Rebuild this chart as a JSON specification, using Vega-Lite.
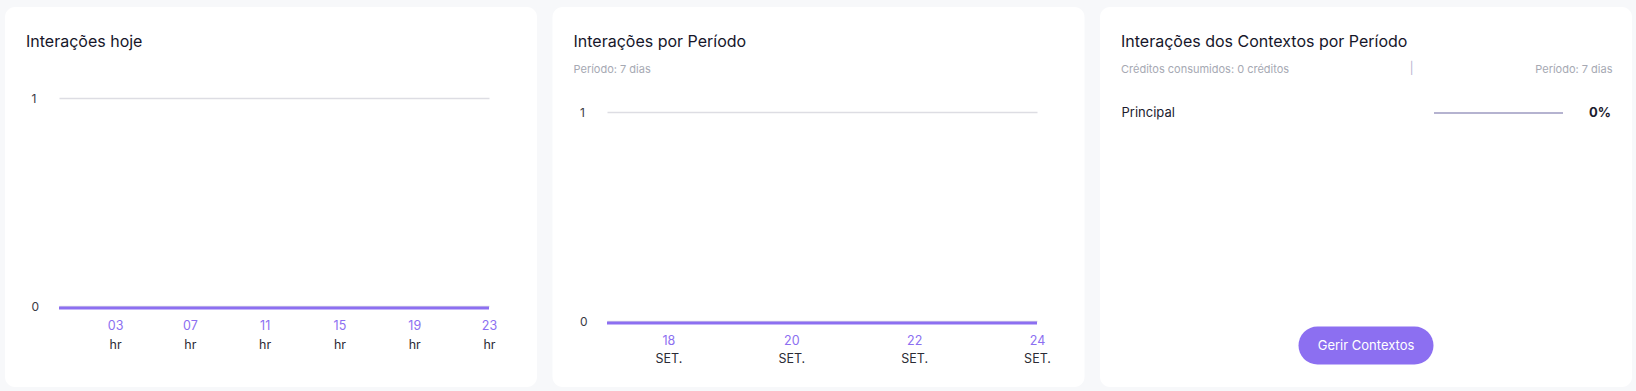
{
  "$schema": "https://vega.github.io/schema/vega-lite/v6.json",
  "background": "#f7f8fa",
  "padding": {"left": 5, "top": 7, "right": 4, "bottom": 4},
  "spacing": 15.5,
  "config": {
    "font": "Inter",
    "view": {"stroke": null},
    "title": {"anchor": "start", "frame": "group", "dx": 21, "fontSize": 16, "fontWeight": 400, "color": "#16162a", "subtitleFontSize": 11, "subtitleColor": "#a6a9b3", "subtitlePadding": 14, "subtitleFont": "Inter"},
    "axis": {"domain": false, "ticks": false, "tickSize": 0, "grid": false, "labelFont": "Inter"}
  },
  "hconcat": [
    {
      "width": 532,
      "height": 380,
      "view": {"fill": "#ffffff", "cornerRadius": 10, "stroke": null},
      "title": {"text": "Interações hoje", "offset": -43},
      "data": {"values": [
        {"hora": 0, "interacoes": 0}, {"hora": 1, "interacoes": 0}, {"hora": 2, "interacoes": 0}, {"hora": 3, "interacoes": 0},
        {"hora": 4, "interacoes": 0}, {"hora": 5, "interacoes": 0}, {"hora": 6, "interacoes": 0}, {"hora": 7, "interacoes": 0},
        {"hora": 8, "interacoes": 0}, {"hora": 9, "interacoes": 0}, {"hora": 10, "interacoes": 0}, {"hora": 11, "interacoes": 0},
        {"hora": 12, "interacoes": 0}, {"hora": 13, "interacoes": 0}, {"hora": 14, "interacoes": 0}, {"hora": 15, "interacoes": 0},
        {"hora": 16, "interacoes": 0}, {"hora": 17, "interacoes": 0}, {"hora": 18, "interacoes": 0}, {"hora": 19, "interacoes": 0},
        {"hora": 20, "interacoes": 0}, {"hora": 21, "interacoes": 0}, {"hora": 22, "interacoes": 0}, {"hora": 23, "interacoes": 0}
      ]},
      "layer": [
        {
          "mark": {"type": "line", "color": "#8c6ff1", "strokeWidth": 3, "yOffset": 2},
          "encoding": {
            "x": {"field": "hora", "type": "quantitative",
              "scale": {"domain": [0, 23], "range": [54, 484], "nice": false, "zero": false},
              "axis": {"orient": "bottom", "offset": -79, "values": [3, 7, 11, 15, 19, 23], "format": "02d", "labelColor": "#8c6ff1", "labelFontSize": 12.5, "labelPadding": 17.5, "labelBaseline": "middle", "labelFlush": false, "title": null}},
            "y": {"field": "interacoes", "type": "quantitative",
              "scale": {"domain": [0, 1], "range": [299, 91], "nice": false, "zero": false},
              "axis": {"values": [0, 1], "format": "d", "grid": true, "gridColor": "#dddde3", "gridWidth": 1.5, "offset": -26, "labelAlign": "left", "labelPadding": 0, "labelColor": "#3a3a44", "labelFontSize": 12, "title": null}}
          }
        },
        {
          "mark": {"type": "point", "opacity": 0},
          "encoding": {
            "x": {"field": "hora", "type": "quantitative",
              "axis": {"orient": "bottom", "offset": -79, "values": [3, 7, 11, 15, 19, 23], "labelExpr": "'hr'", "labelColor": "#2b2b35", "labelFontSize": 12.5, "labelPadding": 36.5, "labelBaseline": "middle", "labelFlush": false, "title": null}}
          }
        }
      ],
      "resolve": {"axis": {"x": "independent"}}
    },
    {
      "width": 532,
      "height": 380,
      "view": {"fill": "#ffffff", "cornerRadius": 10, "stroke": null},
      "title": {"text": "Interações por Período", "subtitle": "Período: 7 dias", "offset": -68},
      "data": {"values": [
        {"dia": 17, "interacoes": 0}, {"dia": 18, "interacoes": 0}, {"dia": 19, "interacoes": 0}, {"dia": 20, "interacoes": 0},
        {"dia": 21, "interacoes": 0}, {"dia": 22, "interacoes": 0}, {"dia": 23, "interacoes": 0}, {"dia": 24, "interacoes": 0}
      ]},
      "layer": [
        {
          "mark": {"type": "line", "color": "#8c6ff1", "strokeWidth": 3, "yOffset": 2},
          "encoding": {
            "x": {"field": "dia", "type": "quantitative",
              "scale": {"domain": [17, 24], "range": [54.5, 484.5], "nice": false, "zero": false},
              "axis": {"orient": "bottom", "offset": -64, "values": [18, 20, 22, 24], "format": "d", "labelColor": "#8c6ff1", "labelFontSize": 12.5, "labelPadding": 17.5, "labelBaseline": "middle", "labelFlush": false, "title": null}},
            "y": {"field": "interacoes", "type": "quantitative",
              "scale": {"domain": [0, 1], "range": [314, 105], "nice": false, "zero": false},
              "axis": {"values": [0, 1], "format": "d", "grid": true, "gridColor": "#dddde3", "gridWidth": 1.5, "offset": -27, "labelAlign": "left", "labelPadding": 0, "labelColor": "#3a3a44", "labelFontSize": 12, "title": null}}
          }
        },
        {
          "mark": {"type": "point", "opacity": 0},
          "encoding": {
            "x": {"field": "dia", "type": "quantitative",
              "axis": {"orient": "bottom", "offset": -64, "values": [18, 20, 22, 24], "labelExpr": "'SET.'", "labelColor": "#2b2b35", "labelFontSize": 12.5, "labelPadding": 35, "labelBaseline": "middle", "labelFlush": false, "title": null}}
          }
        }
      ],
      "resolve": {"axis": {"x": "independent"}}
    },
    {
      "width": 532,
      "height": 380,
      "view": {"fill": "#ffffff", "cornerRadius": 10, "stroke": null},
      "title": {"text": "Interações dos Contextos por Período", "subtitle": "Créditos consumidos: 0 créditos", "offset": -68},
      "layer": [
        {
          "data": {"values": [{"contexto": "Principal", "percentual": 0}]},
          "layer": [
            {
              "mark": {"type": "rule", "color": "#b5b3d0", "strokeWidth": 2},
              "encoding": {
                "x": {"datum": 0, "type": "quantitative",
                  "scale": {"domain": [0, 1], "range": [334, 463], "nice": false, "zero": false},
                  "axis": {"orient": "top", "offset": 0, "labels": false, "title": "Período: 7 dias", "titleX": 512, "titleY": 62, "titleAlign": "right", "titleBaseline": "middle", "titleAngle": 0, "titleFont": "Inter", "titleFontSize": 11, "titleFontWeight": "normal", "titleColor": "#a6a9b3"}},
                "x2": {"datum": 1},
                "y": {"field": "contexto", "type": "nominal",
                  "scale": {"range": [86, 126]},
                  "axis": {"orient": "left", "offset": -21, "labelAlign": "left", "labelPadding": 0, "labelFontSize": 13, "labelColor": "#1c1c2e", "labelBaseline": "middle", "title": "│", "titleFont": "DejaVu Sans", "titleFontSize": 12, "titleFontWeight": "normal", "titleColor": "#b9b6d2", "titleAngle": 0, "titleX": 290, "titleY": 60, "titleAlign": "center", "titleBaseline": "middle"}}
              }
            },
            {
              "mark": {"type": "bar", "color": "#8c6ff1", "height": 2},
              "encoding": {
                "x": {"field": "percentual", "type": "quantitative"},
                "y": {"field": "contexto", "type": "nominal"}
              }
            },
            {
              "mark": {"type": "text", "align": "right", "baseline": "middle", "dx": 48, "fontSize": 13, "fontWeight": 700, "color": "#1c1c2e"},
              "encoding": {
                "x": {"datum": 1, "type": "quantitative"},
                "y": {"field": "contexto", "type": "nominal"},
                "text": {"field": "percentual", "type": "quantitative", "format": ".0%"}
              }
            }
          ]
        },
        {
          "data": {"values": [{"acao": "Gerir Contextos"}]},
          "encoding": {
            "x": {"field": "acao", "type": "nominal", "scale": {"range": [0, 532]}, "axis": null},
            "y": {"field": "acao", "type": "nominal", "scale": {"range": [319, 358]}, "axis": null}
          },
          "layer": [
            {"mark": {"type": "point", "shape": "stroke", "size": 9409, "filled": false, "strokeWidth": 38, "strokeCap": "round", "color": "#8c6ff1", "opacity": 1}},
            {"mark": {"type": "text", "color": "#ffffff", "fontSize": 13, "align": "center", "baseline": "middle"}, "encoding": {"text": {"field": "acao"}}}
          ]
        }
      ],
      "resolve": {"scale": {"x": "independent", "y": "independent"}}
    }
  ]
}
